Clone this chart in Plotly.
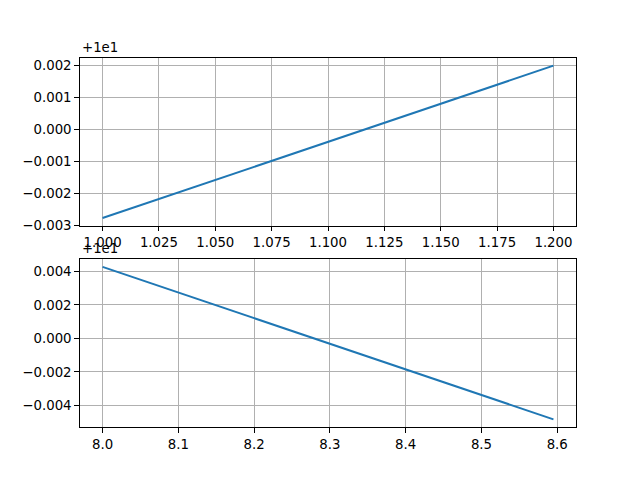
import plotly.graph_objects as go
from plotly.subplots import make_subplots

# values (y is shown as offset from 1e1)
top_x = [1.0, 1.2]
top_y = [9.99723, 10.0020]
bottom_x = [8.0, 8.595]
bottom_y = [10.00427, 9.99517]

top_xticks = [1.000, 1.025, 1.050, 1.075, 1.100, 1.125, 1.150, 1.175, 1.200]
top_xlabels = ["1.000", "1.025", "1.050", "1.075", "1.100", "1.125", "1.150", "1.175", "1.200"]
top_yoffsets = [-0.003, -0.002, -0.001, 0.0, 0.001, 0.002]
top_ylabels = ["\u22120.003", "\u22120.002", "\u22120.001", "0.000", "0.001", "0.002"]

bottom_xticks = [8.0, 8.1, 8.2, 8.3, 8.4, 8.5, 8.6]
bottom_xlabels = ["8.0", "8.1", "8.2", "8.3", "8.4", "8.5", "8.6"]
bottom_yoffsets = [-0.004, -0.002, 0.0, 0.002, 0.004]
bottom_ylabels = ["\u22120.004", "\u22120.002", "0.000", "0.002", "0.004"]

offset = 10.0
blue = "#1f77b4"
font = dict(family="DejaVu Sans", size=13.3, color="black")

fig = make_subplots(rows=2, cols=1, vertical_spacing=0.0909)
fig.add_trace(go.Scatter(x=top_x, y=top_y, mode="lines",
                         line=dict(color=blue, width=2)), row=1, col=1)
fig.add_trace(go.Scatter(x=bottom_x, y=bottom_y, mode="lines",
                         line=dict(color=blue, width=2)), row=2, col=1)

axis_style = dict(
    showline=True, linecolor="black", linewidth=1.1, mirror=True,
    ticks="outside", ticklen=4.7, tickwidth=1.1, tickcolor="black",
    showgrid=True, gridcolor="#b0b0b0", gridwidth=1.1,
    zeroline=False, tickfont=font,
)

fig.update_xaxes(**axis_style)
fig.update_yaxes(**axis_style)

fig.update_xaxes(range=[0.99, 1.21], tickvals=top_xticks, ticktext=top_xlabels, row=1, col=1)
fig.update_yaxes(range=[offset - 0.00301, offset + 0.00224],
                 tickvals=[offset + v for v in top_yoffsets], ticktext=top_ylabels,
                 row=1, col=1)
fig.update_xaxes(range=[7.97025, 8.62475], tickvals=bottom_xticks, ticktext=bottom_xlabels,
                 row=2, col=1)
fig.update_yaxes(range=[offset - 0.005285, offset + 0.004725],
                 tickvals=[offset + v for v in bottom_yoffsets], ticktext=bottom_ylabels,
                 row=2, col=1)

for xr, yr in [("x domain", "y domain"), ("x2 domain", "y2 domain")]:
    fig.add_annotation(text="+1e1", xref=xr, yref=yr, x=0, y=1,
                       xanchor="left", yanchor="bottom", showarrow=False,
                       font=font, yshift=1)

# page body has an 8px margin, so the figure is 8px smaller and shifted
fig.update_layout(
    width=632, height=472,
    margin=dict(l=72, r=64, t=49.6, b=52.8),
    plot_bgcolor="white", paper_bgcolor="white",
    showlegend=False,
)

fig.write_html("out.html")
